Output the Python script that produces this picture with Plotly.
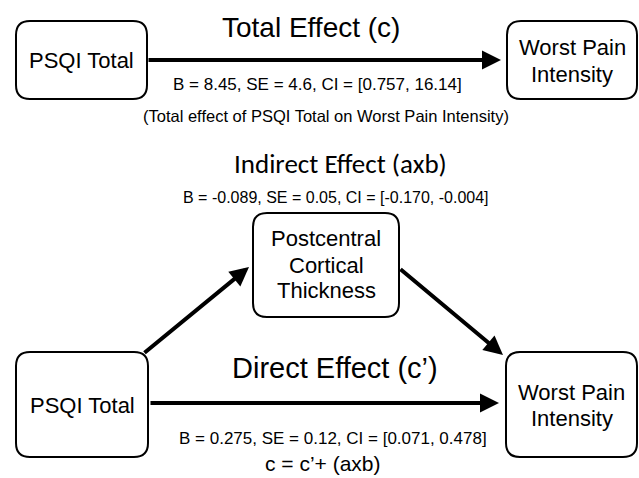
import plotly.graph_objects as go

# ---- content (text) ----
node_names = ["PSQI Total", "Worst Pain Intensity", "Postcentral Cortical Thickness",
              "PSQI Total", "Worst Pain Intensity"]
node_lines = [["PSQI Total"], ["Worst Pain", "Intensity"], ["Postcentral", "Cortical", "Thickness"],
              ["PSQI Total"], ["Worst Pain", "Intensity"]]
effect_titles = ["Total Effect (c)", "Indirect Effect (axb)", "Direct Effect (c’)"]
effect_B = [8.45, -0.089, 0.275]
effect_SE = ["4.6", "0.05", "0.12"]
effect_CI = [["0.757", "16.14"], ["-0.170", "-0.004"], ["0.071", "0.478"]]
B_fmt = ["{:.2f}", "{:.3f}", "{:.3f}"]
note_total = "(Total effect of PSQI Total on Worst Pain Intensity)"
formula = "c = c’+ (axb)"

# ---- layout (pixel coordinates on a 639x478 canvas) ----
W, H = 639, 478
boxes = [(16, 21, 147, 99), (507, 21, 637, 99), (253, 213, 399, 317),
         (16, 352, 148, 457), (506, 352, 637, 457)]
line_y = [[60], [47, 74], [238, 265, 290], [405], [392, 418]]
arrows = [((147, 60), (501, 60)), ((143, 354), (249, 267)),
          ((399, 268), (503, 355)), ((149, 403), (499, 403))]
title_pos = [(311, 27, 28, "Liberation Sans, Arial, sans-serif"),
             (340, 163, 27, "Carlito, Lato, sans-serif"),
             (335, 368, 29, "Liberation Sans, Arial, sans-serif")]
stat_pos = [(317, 84, 17), (336, 197, 16), (333, 438, 17)]
ARIAL = "Liberation Sans, Arial, sans-serif"

fig = go.Figure()
fig.add_trace(go.Scatter(x=[0, W], y=[0, H], mode="markers",
                         marker=dict(opacity=0), hoverinfo="skip", showlegend=False))

def rounded(x0, y0, x1, y1, r=14):
    return (f"M{x0+r},{y0} L{x1-r},{y0} Q{x1},{y0} {x1},{y0+r} "
            f"L{x1},{y1-r} Q{x1},{y1} {x1-r},{y1} L{x0+r},{y1} "
            f"Q{x0},{y1} {x0},{y1-r} L{x0},{y0+r} Q{x0},{y0} {x0+r},{y0} Z")

shapes = []
annotations = []
for (x0, y0, x1, y1), lines, ys in zip(boxes, node_lines, line_y):
    shapes.append(dict(type="path", path=rounded(x0, y0, x1, y1), xref="x", yref="y",
                       line=dict(color="black", width=2), fillcolor="white", layer="below"))
    cx = (x0 + x1) / 2
    for t, yy in zip(lines, ys):
        annotations.append(dict(x=cx, y=yy, text=t, showarrow=False, xref="x", yref="y",
                                xanchor="center", yanchor="middle",
                                font=dict(family=ARIAL, size=22, color="black")))

for (tail, head) in arrows:
    annotations.append(dict(x=head[0], y=head[1], ax=tail[0], ay=tail[1],
                            xref="x", yref="y", axref="x", ayref="y", text="",
                            showarrow=True, arrowhead=2, arrowsize=0.95, arrowwidth=4,
                            arrowcolor="black", standoff=0, startstandoff=0))

for title, (x, y, s, fam) in zip(effect_titles, title_pos):
    annotations.append(dict(x=x, y=y, text=title, showarrow=False, xref="x", yref="y",
                            xanchor="center", yanchor="middle",
                            font=dict(family=fam, size=s, color="black")))

for b, se, ci, fmt, (x, y, s) in zip(effect_B, effect_SE, effect_CI, B_fmt, stat_pos):
    txt = f"B = {fmt.format(b)}, SE = {se}, CI = [{ci[0]}, {ci[1]}]"
    annotations.append(dict(x=x, y=y, text=txt, showarrow=False, xref="x", yref="y",
                            xanchor="center", yanchor="middle",
                            font=dict(family=ARIAL, size=s, color="black")))

annotations.append(dict(x=326, y=116, text=note_total, showarrow=False, xref="x", yref="y",
                        xanchor="center", yanchor="middle",
                        font=dict(family=ARIAL, size=16.5, color="black")))
annotations.append(dict(x=323, y=463, text=formula, showarrow=False, xref="x", yref="y",
                        xanchor="center", yanchor="middle", borderpad=0,
                        font=dict(family=ARIAL, size=21, color="black")))

fig.update_layout(width=W, height=H, margin=dict(l=0, r=0, t=0, b=0),
                  paper_bgcolor="white", plot_bgcolor="white",
                  xaxis=dict(range=[0, W], visible=False, fixedrange=True),
                  yaxis=dict(range=[H, 0], visible=False, fixedrange=True),
                  shapes=shapes, annotations=annotations, showlegend=False)

fig.write_html("out.html", config={"displayModeBar": False},
               post_script="document.body.style.margin='0px';document.body.style.overflow='hidden';")
